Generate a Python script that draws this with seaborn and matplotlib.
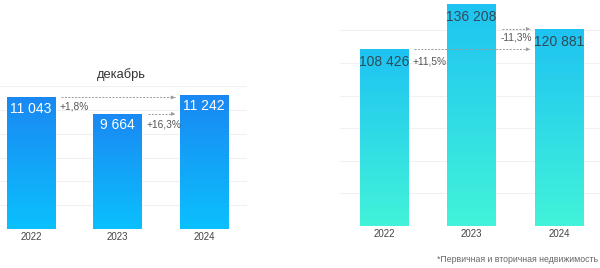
import numpy as np
import pandas as pd
import matplotlib
matplotlib.use("Agg")
import matplotlib.pyplot as plt
import seaborn as sns
from matplotlib.colors import LinearSegmentedColormap

# ---- data ----
years = ["2022", "2023", "2024"]
dec_values = [11043, 9664, 11242]
dec_labels = ["11 043", "9 664", "11 242"]
total_values = [108426, 136208, 120881]
total_labels = ["108 426", "136 208", "120 881"]
dec_changes = ["+1,8%", "+16,3%"]
total_changes = ["+11,5%", "-11,3%"]
title_left = "декабрь"
footnote = "*Первичная и вторичная недвижимость"

sns.set_theme(style="white")
plt.rcParams["font.family"] = ["Liberation Sans", "DejaVu Sans"]

W, H = 600, 268
fig = plt.figure(figsize=(W / 100, H / 100), dpi=100)

def px_axes(left, top, right, bottom):
    return fig.add_axes([left / W, 1 - bottom / H, (right - left) / W, (bottom - top) / H])

ax1 = px_axes(0, 86, 247, 229)
ax2 = px_axes(340, 0, 600, 226)

def gradient_bars(ax, cats, vals, width, c_top, c_bot, xlim, ylim, step):
    df = pd.DataFrame({"year": cats, "value": vals})
    sns.barplot(data=df, x="year", y="value", ax=ax, width=width, color="#1a8cf5",
                saturation=1, zorder=2)
    cmap = LinearSegmentedColormap.from_list("g", [c_bot, c_top])
    grad = np.linspace(0, 1, 256).reshape(-1, 1)
    for p in ax.patches:
        x0, y0 = p.get_x(), p.get_y()
        w, h = p.get_width(), p.get_height()
        p.set_facecolor("none")
        p.set_edgecolor("none")
        im = ax.imshow(grad, cmap=cmap, origin="lower", aspect="auto",
                       extent=[x0, x0 + w, y0, y0 + h], zorder=2)
        im.set_clip_path(p)
    ax.set_xlim(*xlim)
    ax.set_ylim(*ylim)
    ax.set_yticks(np.arange(0, ylim[1] + 1, step))
    ax.yaxis.grid(True, color="#f1f1f1", lw=0.8, zorder=0)
    ax.set_yticklabels([])
    ax.tick_params(axis="y", length=0)
    ax.tick_params(axis="x", length=0, pad=2, labelsize=7, labelcolor="#444444")
    ax.set_xlabel("")
    ax.set_ylabel("")
    for s in ax.spines.values():
        s.set_visible(False)
    ax.set_facecolor("none")

w1 = 0.555
w2 = 0.549
gradient_bars(ax1, years, dec_values, w1, "#1a88f3", "#0bc0fd",
              (-31 / 86.5, 216 / 86.5), (0, 12000), 2000)
gradient_bars(ax2, years, total_values, w2, "#1ec3f2", "#42f3d9",
              (-44 / 87.5, 216 / 87.5), (0, 138650), 20000)

# value labels
for i, (v, lab) in enumerate(zip(dec_values, dec_labels)):
    ax1.annotate(lab, (i, v), xytext=(0, -8), textcoords="offset points",
                 ha="center", va="center", color="white", fontsize=10, zorder=5)
for i, (v, lab) in enumerate(zip(total_values, total_labels)):
    ax2.annotate(lab, (i, v), xytext=(0, -9.5), textcoords="offset points",
                 ha="center", va="center", color="#2f4b58", fontsize=10, zorder=5)

def change_arrow(ax, i0, i1, level, text, width, unit, off):
    gs = 6 / unit
    ge = 5 / unit
    xs = i0 + width / 2 + gs
    xe = i1 - width / 2 - ge
    ax.plot([xs, xe], [level, level], color="#9a9a9a", lw=0.7,
            linestyle=(0, (2, 1.5)), zorder=3)
    ax.annotate("", xy=(xe, level), xytext=(xe - 3 / unit, level),
                arrowprops=dict(arrowstyle="-|>", color="#9a9a9a", lw=0.6,
                                mutation_scale=5, shrinkA=0, shrinkB=0), zorder=3)
    ax.annotate(text, (xs, level), xytext=(-1, -off), textcoords="offset points",
                ha="left", va="center", fontsize=7.3, color="#555555", zorder=5)

change_arrow(ax1, 0, 2, dec_values[0], dec_changes[0], w1, 86.5, 6.5)
change_arrow(ax1, 1, 2, dec_values[1], dec_changes[1], w1, 86.5, 7.5)
change_arrow(ax2, 0, 2, total_values[0], total_changes[0], w2, 87.5, 8.5)
change_arrow(ax2, 1, 2, total_values[2], total_changes[1], w2, 87.5, 6.5)

fig.text(121 / W, 1 - 75 / H, title_left, ha="center", va="center",
         fontsize=9.3, color="#333333")
fig.text(598 / W, 1 - 260 / H, footnote, ha="right", va="center",
         fontsize=6.3, color="#666666")

fig.savefig("out.png", dpi=100)
